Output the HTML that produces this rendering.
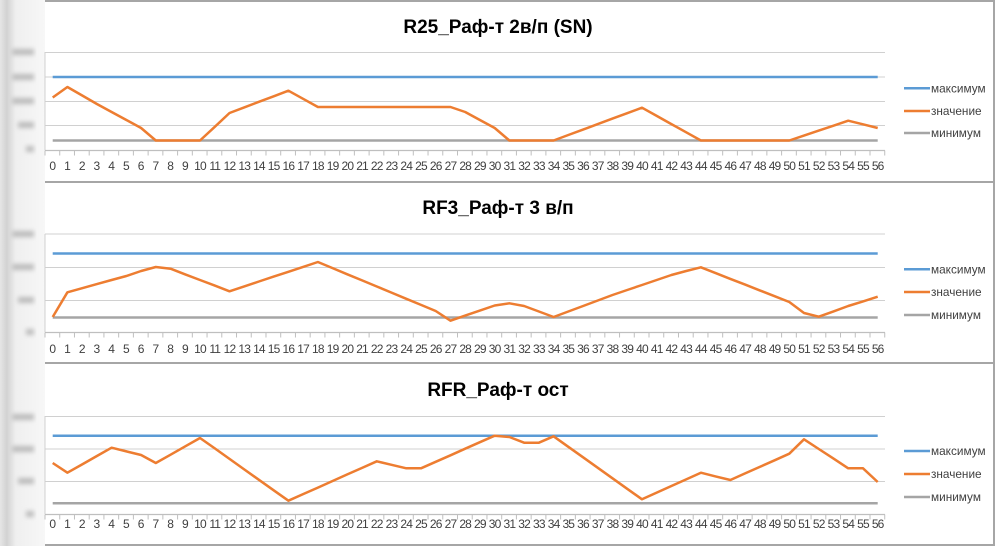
<!DOCTYPE html>
<html><head><meta charset="utf-8"><style>
body{margin:0;width:999px;height:546px;overflow:hidden;background:#fff;font-family:"Liberation Sans",sans-serif;}
svg{display:block}
</style></head><body>
<svg width="999" height="546" xmlns="http://www.w3.org/2000/svg">
<defs>
<linearGradient id="lg" x1="0" x2="1" y1="0" y2="0">
<stop offset="0" stop-color="#e6e6e6"/><stop offset="0.15" stop-color="#d2d2d2"/><stop offset="0.35" stop-color="#efefef"/><stop offset="1" stop-color="#f7f7f7"/>
</linearGradient>
<filter id="bl"><feGaussianBlur stdDeviation="2.5"/></filter>
</defs>
<rect x="0" y="0" width="45" height="546" fill="url(#lg)"/>
<g filter="url(#bl)" fill="#bbbbbb">
<rect x="12" y="49" width="22" height="6"/><rect x="12" y="74" width="22" height="6"/><rect x="12" y="98" width="22" height="6"/><rect x="18" y="122" width="16" height="6"/><rect x="26" y="146" width="8" height="6"/>
<rect x="12" y="231" width="22" height="6"/><rect x="12" y="264" width="22" height="6"/><rect x="18" y="297" width="16" height="6"/><rect x="26" y="329" width="8" height="6"/>
<rect x="12" y="414" width="22" height="6"/><rect x="12" y="446" width="22" height="6"/><rect x="18" y="478" width="16" height="6"/><rect x="26" y="511" width="8" height="6"/>
</g>
<g stroke="#a6a6a6" stroke-width="2">
<line x1="45" y1="1" x2="995" y2="1"/><line x1="45" y1="182" x2="995" y2="182"/><line x1="45" y1="363" x2="995" y2="363"/><line x1="45" y1="545" x2="995" y2="545"/>
<line x1="994" y1="1" x2="994" y2="545"/>
</g>
<g font-weight="bold" font-size="19" fill="#000" text-anchor="middle">
<text x="498" y="33">R25_Раф-т 2в/п (SN)</text>
<text x="498" y="214">RF3_Раф-т 3 в/п</text>
<text x="498" y="396">RFR_Раф-т ост</text>
</g>
<g stroke="#d0d0d0" stroke-width="1"><line x1="45" y1="52.5" x2="885" y2="52.5"/><line x1="45" y1="77" x2="885" y2="77"/><line x1="45" y1="101.5" x2="885" y2="101.5"/><line x1="45" y1="125.5" x2="885" y2="125.5"/><line x1="45" y1="52" x2="45" y2="150"/></g>
<g stroke="#d0d0d0" stroke-width="1"><line x1="45" y1="234" x2="885" y2="234"/><line x1="45" y1="267.5" x2="885" y2="267.5"/><line x1="45" y1="300.5" x2="885" y2="300.5"/><line x1="45" y1="234" x2="45" y2="332"/></g>
<g stroke="#d0d0d0" stroke-width="1"><line x1="45" y1="416.5" x2="885" y2="416.5"/><line x1="45" y1="449" x2="885" y2="449"/><line x1="45" y1="481.5" x2="885" y2="481.5"/><line x1="45" y1="416" x2="45" y2="514"/></g>
<g stroke="#bfbfbf" stroke-width="1.2">
<line x1="45" y1="150.5" x2="885" y2="150.5"/><line x1="45" y1="332.5" x2="885" y2="332.5"/><line x1="45" y1="514.5" x2="885" y2="514.5"/>
</g>
<g id="ticks" stroke="#bfbfbf" stroke-width="1"></g>
<g id="labels" font-size="12" fill="#404040" text-anchor="middle"></g>
<g stroke-width="2.5" fill="none">
<line x1="52.7" y1="77" x2="877.7" y2="77" stroke="#5b9bd5"/>
<line x1="52.7" y1="140.5" x2="877.7" y2="140.5" stroke="#a5a5a5"/>
<line x1="52.7" y1="253.5" x2="877.7" y2="253.5" stroke="#5b9bd5"/>
<line x1="52.7" y1="317.5" x2="877.7" y2="317.5" stroke="#a5a5a5"/>
<line x1="52.7" y1="435.7" x2="877.7" y2="435.7" stroke="#5b9bd5"/>
<line x1="52.7" y1="503.3" x2="877.7" y2="503.3" stroke="#a5a5a5"/>
<polyline id="p1" stroke="#ed7d31" stroke-linejoin="round"/>
<polyline id="p2" stroke="#ed7d31" stroke-linejoin="round"/>
<polyline id="p3" stroke="#ed7d31" stroke-linejoin="round"/>
</g>
<g font-size="11.8" fill="#404040">
<g stroke-width="2.5">
<line x1="904" y1="88.3" x2="930" y2="88.3" stroke="#5b9bd5"/><line x1="904" y1="111" x2="930" y2="111" stroke="#ed7d31"/><line x1="904" y1="133" x2="930" y2="133" stroke="#a5a5a5"/>
<line x1="904" y1="269.3" x2="930" y2="269.3" stroke="#5b9bd5"/><line x1="904" y1="292" x2="930" y2="292" stroke="#ed7d31"/><line x1="904" y1="315" x2="930" y2="315" stroke="#a5a5a5"/>
<line x1="904" y1="451" x2="930" y2="451" stroke="#5b9bd5"/><line x1="904" y1="474" x2="930" y2="474" stroke="#ed7d31"/><line x1="904" y1="497" x2="930" y2="497" stroke="#a5a5a5"/>
</g>
<text x="931" y="92.3">максимум</text><text x="931" y="115">значение</text><text x="931" y="137">минимум</text>
<text x="931" y="273.3">максимум</text><text x="931" y="296">значение</text><text x="931" y="319">минимум</text>
<text x="931" y="455">максимум</text><text x="931" y="478">значение</text><text x="931" y="501">минимум</text>
</g>
</svg>
<script>
const X=i=>52.7+i*14.732;
function interp(k){const o=[];const ks=Object.keys(k).map(Number).sort((a,b)=>a-b);
for(let i=0;i<=56;i++){let a=ks[0],b=ks[ks.length-1];for(const q of ks){if(q<=i)a=q;}for(const q of ks.slice().reverse()){if(q>=i)b=q;}
const y=a===b?k[a]:k[a]+(k[b]-k[a])*(i-a)/(b-a);o.push(X(i).toFixed(1)+","+y.toFixed(1));}return o.join(" ");}
const d1={0:97.5,1:87,2:95.5,3:104,4:112,5:120,6:128,7:140.5,10:140.5,12:113,16:90.7,18:107,27:107,28:112,29:120,30:128,31:140.5,34:140.5,40:107.7,44:140.5,50:140.5,54:120.7,56:128};
const d2={0:317,1:292.3,4:280,5:276,6:271,7:267,8:268.7,12:291.3,18:262,26:311,27:320.7,30:305.5,31:303.3,32:306,34:317,38:295,39:290,40:285,41:280,42:275,43:271,44:267.3,50:302,51:313,52:316.7,54:306,56:296.7};
const d3={0:463,1:472.7,4:447.7,6:455,7:463,10:438,16:500.7,22:461.3,24:468.3,25:468.3,30:435.7,31:437,32:442.7,33:442.7,34:436.3,40:499.3,44:472.7,46:480,50:453.7,51:439.3,54:468.3,55:468.3,56:482};
document.getElementById('p1').setAttribute('points',interp(d1));
document.getElementById('p2').setAttribute('points',interp(d2));
document.getElementById('p3').setAttribute('points',interp(d3));
const NS="http://www.w3.org/2000/svg";const t=document.getElementById('ticks'),l=document.getElementById('labels');
[[150.5,170],[332.5,353],[514.5,528]].forEach(([ay,ly])=>{
for(let i=0;i<=57;i++){const x=45+i*14.732;const e=document.createElementNS(NS,'line');e.setAttribute('x1',x);e.setAttribute('x2',x);e.setAttribute('y1',ay);e.setAttribute('y2',ay+5);t.appendChild(e);}
for(let i=0;i<=56;i++){const e=document.createElementNS(NS,'text');e.setAttribute('x',X(i));e.setAttribute('y',ly);e.textContent=i;if(i>=10)e.setAttribute('letter-spacing','-0.8');l.appendChild(e);}
});
</script>
</body></html>
